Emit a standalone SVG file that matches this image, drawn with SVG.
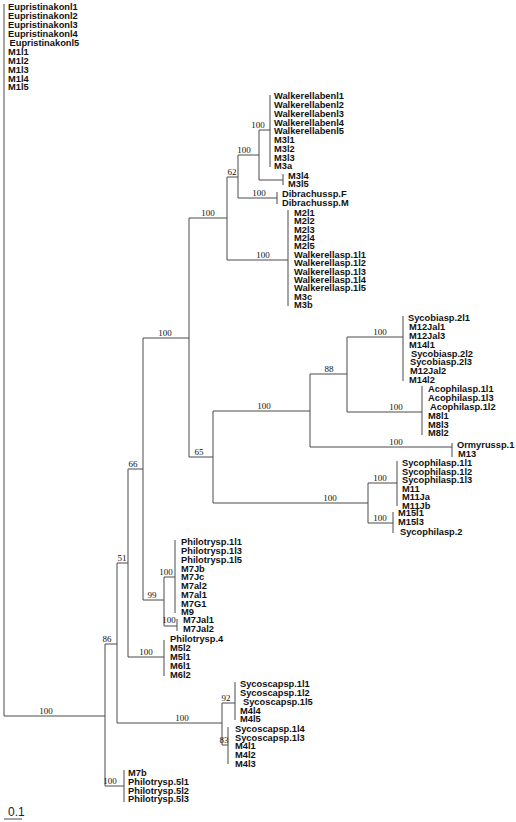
<svg xmlns="http://www.w3.org/2000/svg" width="516" height="822" viewBox="0 0 516 822">
<style>
.b{fill:none;stroke:#4a4a4a;stroke-width:1}
.t{font-family:"Liberation Sans",Arial,sans-serif;font-weight:bold;font-size:9.3px;fill:#111}
.s{font-family:"Liberation Serif","Times New Roman",serif;font-size:9px;fill:#111;text-anchor:middle}
.sc{font-family:"Liberation Sans",Arial,sans-serif;font-size:12px;fill:#222}
</style>
<rect width="516" height="822" fill="#fff"/>
<g id="connectors" class="b">
<path d="M4,4V716M4,716H105M105,644V786M105,644H117M105,786H124M117,563V723M117,563H128M117,723H222M128,469V657M128,469H143M128,657H164M143,338V600M143,338H189M143,600H164M164,577V626M164,577H175M164,626H177M189,218V457M189,218H227M189,457H213M227,177V260M227,177H238M227,260H288M238,155V198M238,155H259M238,198H277M259,130V180M259,130H270M259,180H283M213,411V503M213,411H310M213,503H368M310,374V447M310,374H347M310,447H452M347,337V412M347,337H403M347,412H422M368,483V523M368,483H397M368,523H393M222,703V745M222,703H235M222,745H228"/>
</g>
<g id="support">
<text class="s" x="46" y="714">100</text>
<text class="s" x="107" y="642">86</text>
<text class="s" x="110" y="784">100</text>
<text class="s" x="122" y="561">51</text>
<text class="s" x="182" y="721">100</text>
<text class="s" x="133" y="467">66</text>
<text class="s" x="146" y="655">100</text>
<text class="s" x="165" y="336">100</text>
<text class="s" x="152" y="598">99</text>
<text class="s" x="166" y="575">100</text>
<text class="s" x="169" y="623">100</text>
<text class="s" x="208" y="216">100</text>
<text class="s" x="199" y="455">65</text>
<text class="s" x="232" y="175">62</text>
<text class="s" x="244" y="153">100</text>
<text class="s" x="258" y="128">100</text>
<text class="s" x="263" y="258">100</text>
<text class="s" x="259" y="196">100</text>
<text class="s" x="264" y="409">100</text>
<text class="s" x="329" y="372">88</text>
<text class="s" x="380" y="335">100</text>
<text class="s" x="396" y="410">100</text>
<text class="s" x="396" y="445">100</text>
<text class="s" x="330" y="501">100</text>
<text class="s" x="380" y="481">100</text>
<text class="s" x="380" y="521">100</text>
<text class="s" x="226" y="701">92</text>
<text class="s" x="224" y="743">83</text>
</g>
<g id="outgroup" class="t">
<text x="8" y="10.3">Eupristinakonl1</text>
<text x="8" y="19.2">Eupristinakonl2</text>
<text x="8" y="28.1">Eupristinakonl3</text>
<text x="8" y="37">Eupristinakonl4</text>
<text x="9.5" y="45.9">Eupristinakonl5</text>
<text x="8" y="54.8">M1l1</text>
<text x="8" y="63.7">M1l2</text>
<text x="8" y="72.6">M1l3</text>
<text x="8" y="81.5">M1l4</text>
<text x="8" y="90.4">M1l5</text>
</g>
<g id="walkerellaben">
<path class="b" d="M270,95V167"/>
<g class="t">
<text x="274" y="99.3">Walkerellabenl1</text>
<text x="274" y="108.05">Walkerellabenl2</text>
<text x="274" y="116.8">Walkerellabenl3</text>
<text x="274" y="125.55">Walkerellabenl4</text>
<text x="274" y="134.3">Walkerellabenl5</text>
<text x="274" y="143.05">M3l1</text>
<text x="274" y="151.8">M3l2</text>
<text x="274" y="160.55">M3l3</text>
<text x="274" y="169.3">M3a</text>
</g>
</g>
<g id="m3l4">
<path class="b" d="M283,174V185"/>
<g class="t">
<text x="288" y="178.8">M3l4</text>
<text x="288" y="187.3">M3l5</text>
</g>
</g>
<g id="dibrachus">
<path class="b" d="M277,192V204"/>
<g class="t">
<text x="282" y="197.3">Dibrachussp.F</text>
<text x="282" y="206.3">Dibrachussp.M</text>
</g>
</g>
<g id="m2">
<path class="b" d="M288,210V306"/>
<g class="t">
<text x="294" y="215.8">M2l1</text>
<text x="294" y="224.2">M2l2</text>
<text x="294" y="232.6">M2l3</text>
<text x="294" y="241">M2l4</text>
<text x="294" y="249.4">M2l5</text>
<text x="294" y="257.8">Walkerellasp.1l1</text>
<text x="294" y="266.2">Walkerellasp.1l2</text>
<text x="294" y="274.6">Walkerellasp.1l3</text>
<text x="294" y="283">Walkerellasp.1l4</text>
<text x="294" y="291.4">Walkerellasp.1l5</text>
<text x="294" y="299.8">M3c</text>
<text x="294" y="308.2">M3b</text>
</g>
</g>
<g id="sycobia">
<path class="b" d="M403,316V381"/>
<g class="t">
<text x="408" y="321.3">Sycobiasp.2l1</text>
<text x="409" y="330.1">M12Jal1</text>
<text x="409" y="338.9">M12Jal3</text>
<text x="409" y="347.7">M14l1</text>
<text x="411" y="356.5">Sycobiasp.2l2</text>
<text x="410" y="365.3">Sycobiasp.2l3</text>
<text x="410" y="374.1">M12Jal2</text>
<text x="409" y="382.9">M14l2</text>
</g>
</g>
<g id="acophila">
<path class="b" d="M422,386V435"/>
<g class="t">
<text x="428" y="392.3">Acophilasp.1l1</text>
<text x="428" y="401.1">Acophilasp.1l3</text>
<text x="430" y="409.9">Acophilasp.1l2</text>
<text x="428" y="418.7">M8l1</text>
<text x="428" y="427.5">M8l3</text>
<text x="428" y="436.3">M8l2</text>
</g>
</g>
<g id="ormyrus">
<path class="b" d="M452,443V457"/>
<g class="t">
<text x="457" y="448.3">Ormyrussp.1</text>
<text x="458" y="457.3">M13</text>
</g>
</g>
<g id="sycophila1">
<path class="b" d="M397,461V506"/>
<g class="t">
<text x="402" y="466">Sycophilasp.1l1</text>
<text x="402" y="474.5">Sycophilasp.1l2</text>
<text x="402" y="483">Sycophilasp.1l3</text>
<text x="402" y="491.5">M11</text>
<text x="402" y="500">M11Ja</text>
<text x="402" y="508.5">M11Jb</text>
</g>
</g>
<g id="sycophila2">
<path class="b" d="M393,512V533"/>
<g class="t">
<text x="398" y="516.3">M15l1</text>
<text x="398" y="525.3">M15l3</text>
<text x="400" y="534.8">Sycophilasp.2</text>
</g>
</g>
<g id="philotrys1">
<path class="b" d="M175,540V613"/>
<g class="t">
<text x="181" y="545.3">Philotrysp.1l1</text>
<text x="181" y="554.05">Philotrysp.1l3</text>
<text x="181" y="562.8">Philotrysp.1l5</text>
<text x="181" y="571.55">M7Jb</text>
<text x="181" y="580.3">M7Jc</text>
<text x="181" y="589.05">M7al2</text>
<text x="181" y="597.8">M7al1</text>
<text x="181" y="606.55">M7G1</text>
<text x="181" y="615.3">M9</text>
</g>
</g>
<g id="m7jal">
<path class="b" d="M177,619V631"/>
<g class="t">
<text x="183" y="623.3">M7Jal1</text>
<text x="183" y="632.3">M7Jal2</text>
</g>
</g>
<g id="philotrys4">
<path class="b" d="M164,640V676"/>
<g class="t">
<text x="170" y="642.3">Philotrysp.4</text>
<text x="170" y="651.3">M5l2</text>
<text x="170" y="660.3">M5l1</text>
<text x="170" y="669.3">M6l1</text>
<text x="170" y="678.3">M6l2</text>
</g>
</g>
<g id="sycoscapa1">
<path class="b" d="M235,682V720"/>
<g class="t">
<text x="240" y="687.3">Sycoscapsp.1l1</text>
<text x="240" y="696.3">Sycoscapsp.1l2</text>
<text x="243" y="705.3">Sycoscapsp.1l5</text>
<text x="240" y="713.8">M4l4</text>
<text x="240" y="722.3">M4l5</text>
</g>
</g>
<g id="sycoscapa2">
<path class="b" d="M228,727V764"/>
<g class="t">
<text x="235" y="731.8">Sycoscapsp.1l4</text>
<text x="235" y="740.5">Sycoscapsp.1l3</text>
<text x="235" y="749.2">M4l1</text>
<text x="235" y="757.9">M4l2</text>
<text x="235" y="766.6">M4l3</text>
</g>
</g>
<g id="philotrys5">
<path class="b" d="M124,770V802"/>
<g class="t">
<text x="128" y="776.3">M7b</text>
<text x="128" y="785">Philotrysp.5l1</text>
<text x="128" y="793.7">Philotrysp.5l2</text>
<text x="128" y="802.4">Philotrysp.5l3</text>
</g>
</g>
<g id="scale">
<text class="sc" x="8" y="816">0.1</text>
<path class="b" d="M4,819H22"/>
</g>
</svg>
